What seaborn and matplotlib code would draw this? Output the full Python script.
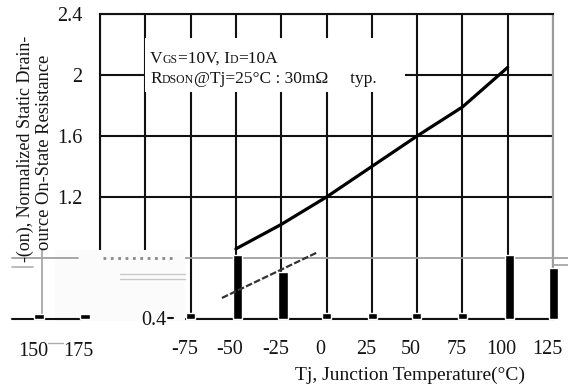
import matplotlib
matplotlib.use("Agg")
import numpy as np
import pandas as pd
import seaborn as sns
import matplotlib.pyplot as plt
from matplotlib.patches import Rectangle
from matplotlib.transforms import ScaledTranslation

# ---------------- data ----------------
temps = [-50, -25, 0, 25, 50, 75, 100]
rds_norm = [0.86, 1.02, 1.20, 1.40, 1.60, 1.79, 2.05]

x_ticks = [-125, -100, -75, -50, -25, 0, 25, 50, 75, 100, 125]
x_tick_labels = ["", "", "-75", "-50", "-25", "0", "25", "50", "75", "100", "125"]
y_ticks = [0.4, 0.8, 1.2, 1.6, 2.0, 2.4]
y_tick_labels = ["", "", "1.2", "1.6", "2", "2.4"]

# glitch artefacts seen in the reference image
artifact_bar_x = [-49, -24, 101, 125.5]
artifact_bar_top = [0.82, 0.71, 0.82, 0.735]
nub_x = [-75, 0, 25.5, 49.5, 75]
ghost_nub_x = [-158.7, -133.3]
ghost_tick_x = [-158.7, -133.7]
ghost_tick_labels = ["150", "175"]
ghost_line_x = [-57.7, -4.7]
ghost_line_y = [0.538, 0.839]

df = pd.DataFrame({"Tj": temps, "R": rds_norm})

# ---------------- style ----------------
sns.set_theme(style="white")
plt.rcParams["font.family"] = ["Liberation Serif", "DejaVu Serif"]
TXT = "#141414"
W, H = 568, 389

fig = plt.figure(figsize=(W / 100, H / 100), dpi=100)
fig.patch.set_facecolor("white")
ax = fig.add_axes([100 / W, 1 - 319 / H, 453 / W, 305 / H])
ax.set_facecolor("white")

ax.set_xlim(-125, 125)
ax.set_ylim(0.4, 2.4)

# grid lines
for xv in x_ticks:
    ax.axvline(xv, color="#111111", lw=1.5, zorder=1)
for yv in y_ticks:
    if abs(yv - 0.8) < 1e-6:
        continue
    ax.axhline(yv, color="#111111", lw=1.5, zorder=1)

for s in ["left", "bottom", "top"]:
    ax.spines[s].set_color("#111111")
    ax.spines[s].set_linewidth(1.5)
ax.spines["right"].set_color("#9a9a9a")
ax.spines["right"].set_linewidth(1.5)

ax.set_xticks(x_ticks)
ax.set_xticklabels(x_tick_labels)
ax.set_yticks(y_ticks)
ax.set_yticklabels(y_tick_labels)
ax.tick_params(axis="x", length=0, pad=15, labelsize=14.5, labelcolor=TXT)
ax.tick_params(axis="y", length=0, pad=12.5, labelsize=14.5, labelcolor=TXT)
off = ScaledTranslation(-6 / 100, 0, fig.dpi_scale_trans)
for lbl in ax.get_xticklabels():
    lbl.set_transform(lbl.get_transform() + off)
ax.set_xlabel("")
ax.set_ylabel("")

# white annotation box
ax.add_patch(Rectangle((-100.2, 1.889), 143.6, 0.354, facecolor="white",
                       edgecolor="none", zorder=3))

# curve
sns.lineplot(data=df, x="Tj", y="R", ax=ax, color="#000000", lw=2.3,
             zorder=6, legend=False)
ax.set_xlabel("")
ax.set_ylabel("")

# glitch bars
ax.bar(artifact_bar_x, [t - 0.4 for t in artifact_bar_top], bottom=0.4,
       width=5, color="#000000", zorder=5, clip_on=False)
ax.bar(nub_x, [0.04] * len(nub_x), bottom=0.4, width=5, color="#000000",
       zorder=5, clip_on=False)

# glitch white region
ax.add_patch(Rectangle((-149.8, 0.385), 71.7, 0.467, facecolor="#fbfbfb",
                       edgecolor="none", zorder=7, clip_on=False))
# grey 0.8 line across
ax.plot([-78.1, 133.3], [0.8, 0.8], color="#a0a0a0", lw=1.3, zorder=4,
        clip_on=False)
ax.plot([-173.6, -137.1], [0.8, 0.8], color="#a0a0a0", lw=1.3, zorder=8,
        clip_on=False)
ax.plot([-173.6, -162], [0.741, 0.741], color="#b0b0b0", lw=1.2, zorder=8,
        clip_on=False)
ax.plot([-157.2, -157.2], [0.4, 0.852], color="#a8a8a8", lw=1.3, zorder=8,
        clip_on=False)
ax.plot([-173.6, -134.9], [0.4, 0.4], color="#111111", lw=1.5, zorder=8,
        clip_on=False)
ax.plot([125, 125, 133.3], [0.8, 0.754, 0.754], color="#a0a0a0", lw=1.2,
        zorder=8, clip_on=False)
ax.bar(ghost_nub_x, [0.03, 0.03], bottom=0.4, width=5.5, color="#000000",
       zorder=8, clip_on=False)
# ghost diagonal
ax.plot(ghost_line_x, ghost_line_y, color="#333333", lw=1.6,
        ls=(0, (3, 1)), zorder=8, clip_on=False)
# garbled 0.8 label and faint lines
ax.plot([-123.3, -83.6], [0.8, 0.8], color="#888888", lw=2, ls=":",
        zorder=8, clip_on=False)
ax.plot([-114, -78.3], [0.695, 0.695], color="#c8c8c8", lw=1, zorder=8,
        clip_on=False)
ax.plot([-114, -78.3], [0.662, 0.662], color="#c8c8c8", lw=1, zorder=8,
        clip_on=False)
# ghost 0.4 label
ax.text(-95.2, 0.39, "0.4", fontsize=14.5, color=TXT, ha="center",
        va="center", zorder=9, clip_on=False)
ax.plot([-87.5, -84.7], [0.407, 0.407], color="#111111", lw=1.5, zorder=9,
        clip_on=False)
# ghost tick labels
for gx, gl in zip(ghost_tick_x, ghost_tick_labels):
    t = ax.text(gx, 0.4, gl, fontsize=14.5, color=TXT, ha="center", va="top",
                clip_on=False)
    t.set_transform(ax.transData + ScaledTranslation(-6 / 100, -23 / 100,
                                                      fig.dpi_scale_trans))
fig.add_artist(plt.Line2D([48 / W, 63 / W], [1 - 343 / H, 1 - 343 / H],
                          color="#aaaaaa", lw=1))

# axis titles
fig.text(410 / W, 1 - 375 / H, "Tj, Junction Temperature(°C)", fontsize=14,
         color=TXT, ha="center", va="center")
fig.text(25 / W, 1 - 262 / H, "-(on), Normalized Static Drain-", fontsize=13,
         color=TXT, rotation=90, ha="center", va="bottom")
fig.text(45 / W, 1 - 250 / H, "ource On-State Resistance", fontsize=13.3,
         color=TXT, rotation=90, ha="center", va="bottom")

# rich annotation text
renderer = fig.canvas.get_renderer()


def rich(x_px, y_px, pieces):
    x = x_px
    for s, size in pieces:
        t = fig.text(x / W, 1 - y_px / H, s, fontsize=size, color=TXT,
                     ha="left", va="baseline", zorder=10)
        x += t.get_window_extent(renderer).width


BIG, SMALL = 12.5, 8.5
rich(150, 63, [("V", BIG), ("GS", SMALL), ("=10V, I", BIG), ("D", SMALL),
               ("=10A", BIG)])
rich(150, 83, [("R", BIG), ("DSON", SMALL),
               ("@Tj=25°C : 30mΩ     typ.", BIG)])

fig.savefig("out.png", dpi=100)
